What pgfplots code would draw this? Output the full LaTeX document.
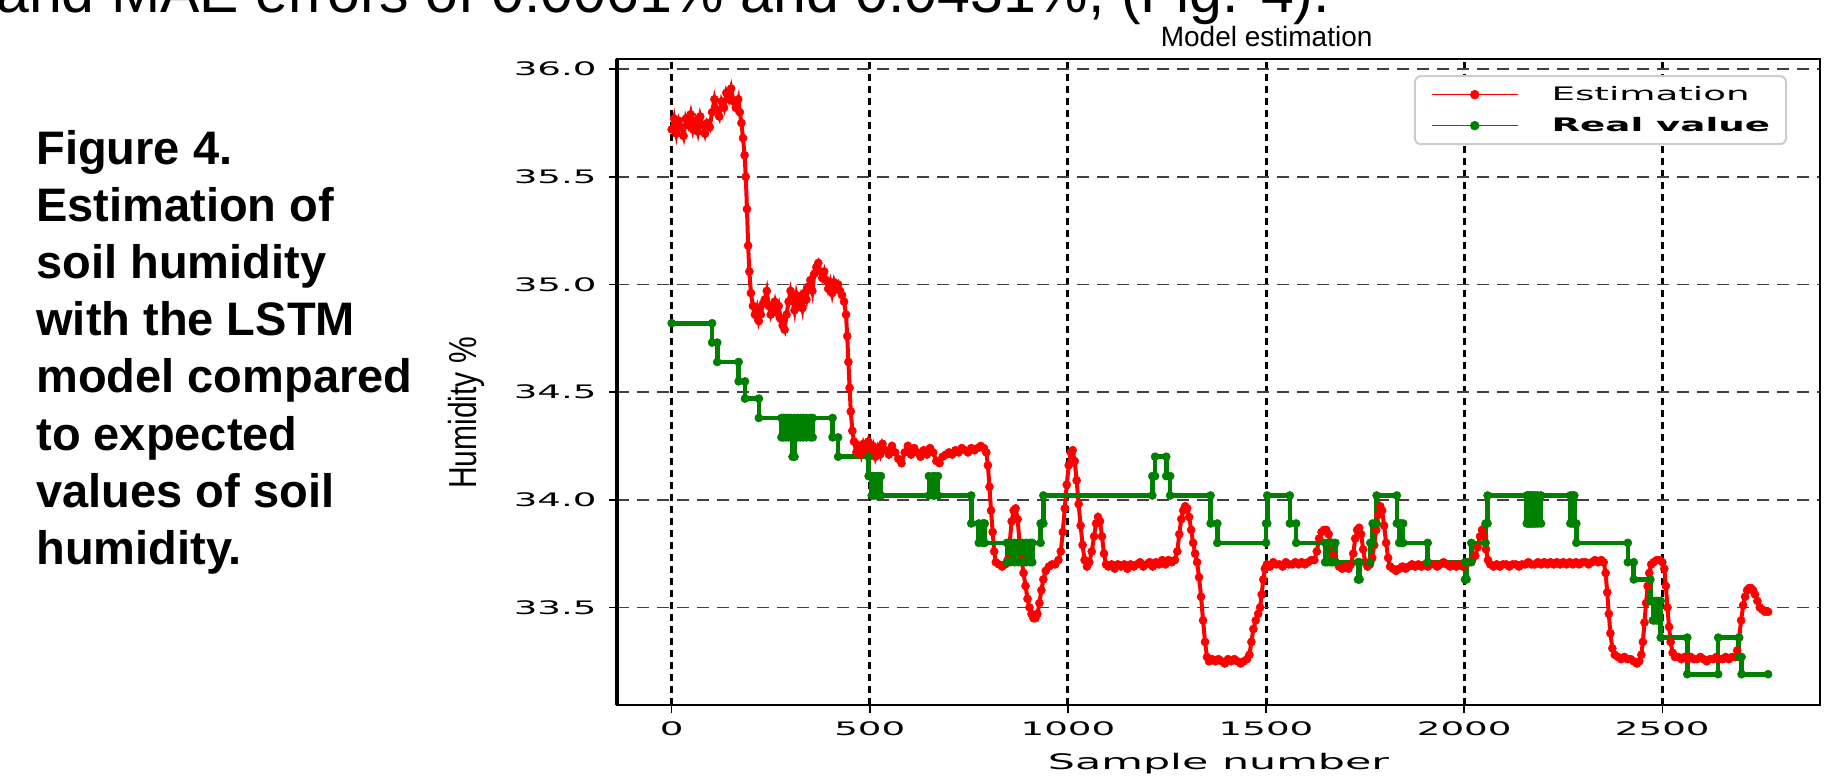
\documentclass[border=0pt]{standalone}
\usepackage{fontspec}
\setmainfont{Liberation Sans}
\newfontfamily\dejavu{DejaVu Sans}
\usepackage{graphicx}
\usepackage{pgfplots}
\pgfplotsset{compat=1.18}
\definecolor{mplgreen}{RGB}{0,128,0}
\newcommand{\wide}[1]{\scalebox{2}[1]{#1}}
\begin{document}
\begin{tikzpicture}[x=1pt,y=1pt]
\useasboundingbox (-308.5,-36) rectangle (614.5,352.5);
\node[anchor=base west, inner sep=0pt, font=\fontsize{29.5}{34}\selectfont] at (-310.5,346) {and MAE errors of 0.0061\% and 0.0431\%, (Fig. 4).};
\foreach \t [count=\i from 0] in {Figure 4., Estimation of, soil humidity, with the LSTM, model compared, to expected, values of soil, humidity.}
  \node[anchor=base west, inner sep=0pt, font=\bfseries\fontsize{23.5}{28}\selectfont] at (-290.5,270-28.5*\i) {\t};
\begin{axis}[
  scale only axis,
  width=601.5pt, height=323pt,
  xmin=-138, xmax=2898, ymin=33.047, ymax=36.047,
  xtick={0,500,1000,1500,2000,2500},
  xticklabels={\wide{0},\wide{500},\wide{1000},\wide{1500},\wide{2000},\wide{2500}},
  ytick={33.5,34,34.5,35,35.5,36},
  yticklabels={\wide{33.5},\wide{34.0},\wide{34.5},\wide{35.0},\wide{35.5},\wide{36.0}},
  tick align=outside, tick pos=left, major tick length=4pt,
  tick style={black, line width=0.8pt},
  tick label style={font=\dejavu\fontsize{9.3}{11}\selectfont, inner sep=0pt},
  xticklabel style={anchor=north, yshift=-4pt},
  yticklabel style={anchor=east, xshift=-6pt},
  xmajorgrids, ymajorgrids,
  x grid style={black, line width=1.5pt, dash pattern=on 3.5pt off 2.5pt},
  y grid style={black!75, line width=0.9pt, dash pattern=on 6pt off 4pt},
  axis line style={black, line width=1pt},
  legend style={at={(0.9726,0.975)}, anchor=north east, draw=black!20, line width=1pt,
    rounded corners=3pt, fill=white, inner xsep=8pt, inner ysep=1.5pt, row sep=0pt,
    font=\dejavu\fontsize{9.3}{11}\selectfont,
    nodes={inner sep=0pt, minimum height=15.5pt},
    /tikz/every odd column/.append style={column sep=16.5pt}},
  legend cell align=left,
  legend image code/.code={\draw[mark repeat=2,mark phase=2,#1,line width=0.8pt,mark size=2.2pt] plot coordinates {(0pt,0pt) (21.5pt,0pt) (43pt,0pt)};},
  after end axis/.code={
    \draw[black, line width=2pt] (rel axis cs:0,0) -- (rel axis cs:0,1);
    \node[font=\fontsize{14}{16}\selectfont, anchor=base] at (rel axis cs:0.54,1.019) {Model estimation};
    \node[font=\dejavu\fontsize{10.7}{12}\selectfont, anchor=base] at (rel axis cs:0.5,-0.1006) {\wide{Sample number}};
    \node[rotate=90, font=\fontsize{15}{18}\selectfont, anchor=center] at (rel axis cs:-0.1255,0.452) {\scalebox{1}[1.3]{Humidity \%}};
  },
]
\addplot[red, line width=2pt, mark=*, mark size=2pt, mark options={line width=0.3pt, fill=red, draw=red}] coordinates {
(0,35.72) (6,35.77) (12,35.70) (18,35.76) (24,35.73) (30,35.69) (36,35.77) (42,35.74) (48,35.79) (54,35.72)
(60,35.76) (66,35.71) (72,35.78) (78,35.74) (84,35.70) (90,35.75) (96,35.73) (102,35.80) (108,35.86) (114,35.81)
(120,35.78) (126,35.85) (132,35.82) (138,35.89) (144,35.86) (150,35.91) (156,35.85) (162,35.82) (168,35.86) (172,35.80)
(176,35.75) (180,35.68) (184,35.60) (187,35.50) (190,35.35) (193,35.18) (196,35.06) (200,34.96) (205,34.90) (210,34.86)
(215,34.89) (220,34.83) (225,34.86) (230,34.91) (235,34.93) (240,34.97) (245,34.90) (250,34.86) (255,34.89) (260,34.92)
(265,34.87) (270,34.90) (275,34.84) (280,34.81) (285,34.79) (290,34.86) (295,34.92) (300,34.97) (305,34.93) (310,34.88)
(315,34.95) (320,34.91) (325,34.94) (330,34.89) (335,34.96) (340,34.93) (345,34.99) (350,35.02) (355,34.97) (360,35.05)
(365,35.08) (370,35.10) (375,35.06) (380,35.03) (385,35.06) (390,35.02) (395,34.98) (400,35.01) (405,34.96) (410,35.01)
(415,34.98) (420,35.00) (425,34.97) (430,34.95) (435,34.92) (440,34.86) (443,34.76) (446,34.64) (449,34.52) (452,34.41)
(456,34.32) (460,34.27) (466,34.22) (472,34.25) (478,34.21) (484,34.26) (490,34.23) (496,34.27) (502,34.22) (508,34.25)
(514,34.20) (520,34.24) (526,34.21) (532,34.26) (540,34.23) (548,34.21) (556,34.25) (564,34.22) (572,34.19) (580,34.17)
(588,34.22) (596,34.25) (604,34.21) (612,34.24) (620,34.22) (628,34.20) (636,34.23) (644,34.21) (652,34.24) (660,34.22)
(668,34.18) (676,34.17) (684,34.20) (692,34.21) (700,34.22) (708,34.21) (716,34.23) (724,34.22) (732,34.24) (740,34.23)
(748,34.22) (756,34.24) (764,34.23) (772,34.24) (780,34.25) (788,34.24) (794,34.22) (798,34.16) (802,34.06) (806,33.95)
(810,33.85) (814,33.76) (818,33.71) (826,33.70) (834,33.69) (842,33.70) (848,33.72) (853,33.80) (858,33.90) (863,33.95)
(868,33.96) (873,33.91) (878,33.80) (883,33.72) (888,33.66) (893,33.60) (898,33.54) (903,33.50) (908,33.47) (913,33.45)
(918,33.45) (923,33.47) (928,33.52) (933,33.58) (938,33.63) (944,33.67) (952,33.69) (960,33.70) (968,33.70) (976,33.72)
(982,33.76) (987,33.85) (992,33.96) (997,34.07) (1002,34.16) (1007,34.22) (1012,34.23) (1017,34.18) (1022,34.09) (1027,33.98)
(1032,33.88) (1037,33.79) (1042,33.72) (1048,33.69) (1054,33.71) (1060,33.76) (1066,33.83) (1071,33.89) (1076,33.92) (1081,33.90)
(1086,33.83) (1091,33.75) (1096,33.70) (1102,33.69) (1110,33.70) (1118,33.68) (1126,33.70) (1134,33.69) (1142,33.70) (1150,33.68)
(1158,33.70) (1166,33.69) (1174,33.70) (1182,33.71) (1190,33.69) (1198,33.70) (1206,33.71) (1214,33.69) (1222,33.71) (1230,33.70)
(1238,33.72) (1246,33.70) (1254,33.72) (1262,33.71) (1270,33.72) (1276,33.76) (1281,33.84) (1286,33.91) (1291,33.95) (1296,33.97)
(1301,33.96) (1306,33.92) (1311,33.86) (1316,33.80) (1321,33.75) (1326,33.71) (1331,33.64) (1336,33.55) (1341,33.44) (1346,33.34)
(1351,33.27) (1356,33.25) (1364,33.26) (1372,33.25) (1380,33.26) (1388,33.25) (1396,33.24) (1404,33.26) (1412,33.25) (1420,33.26)
(1428,33.25) (1436,33.24) (1444,33.25) (1452,33.26) (1458,33.28) (1463,33.34) (1468,33.40) (1474,33.44) (1480,33.47) (1485,33.50)
(1489,33.56) (1493,33.63) (1497,33.68) (1502,33.70) (1510,33.69) (1518,33.71) (1526,33.70) (1534,33.70) (1542,33.69) (1550,33.71)
(1558,33.70) (1566,33.70) (1574,33.71) (1582,33.70) (1590,33.71) (1598,33.70) (1606,33.71) (1614,33.72) (1622,33.72) (1628,33.76)
(1634,33.82) (1640,33.85) (1646,33.86) (1652,33.86) (1658,33.84) (1664,33.79) (1670,33.74) (1676,33.71) (1684,33.69) (1692,33.68)
(1700,33.69) (1708,33.68) (1714,33.70) (1720,33.75) (1725,33.82) (1730,33.86) (1735,33.87) (1740,33.84) (1745,33.77) (1750,33.71)
(1756,33.69) (1762,33.70) (1768,33.73) (1773,33.79) (1778,33.86) (1783,33.93) (1788,33.97) (1793,33.95) (1798,33.88) (1803,33.80)
(1808,33.73) (1813,33.69) (1820,33.68) (1828,33.67) (1836,33.68) (1844,33.69) (1852,33.68) (1860,33.69) (1868,33.70) (1876,33.69)
(1884,33.70) (1892,33.69) (1900,33.70) (1908,33.69) (1916,33.70) (1924,33.70) (1932,33.69) (1940,33.70) (1948,33.71) (1956,33.70)
(1964,33.69) (1972,33.70) (1980,33.69) (1988,33.70) (1996,33.69) (2004,33.70) (2012,33.71) (2020,33.72) (2028,33.74) (2034,33.78)
(2040,33.83) (2045,33.86) (2050,33.83) (2055,33.77) (2060,33.72) (2066,33.70) (2074,33.69) (2082,33.70) (2090,33.69) (2098,33.70)
(2106,33.70) (2114,33.69) (2122,33.70) (2130,33.70) (2138,33.69) (2146,33.70) (2154,33.70) (2162,33.71) (2170,33.70) (2178,33.70)
(2186,33.71) (2194,33.70) (2202,33.71) (2210,33.70) (2218,33.71) (2226,33.70) (2234,33.71) (2242,33.70) (2250,33.71) (2258,33.70)
(2266,33.71) (2274,33.70) (2282,33.71) (2290,33.70) (2298,33.71) (2306,33.71) (2314,33.70) (2322,33.71) (2330,33.72) (2338,33.71)
(2346,33.72) (2352,33.71) (2357,33.66) (2361,33.57) (2365,33.47) (2369,33.38) (2374,33.31) (2380,33.28) (2388,33.27) (2396,33.26)
(2404,33.27) (2412,33.26) (2420,33.26) (2428,33.25) (2436,33.24) (2442,33.25) (2447,33.28) (2451,33.34) (2455,33.43) (2459,33.52)
(2463,33.60) (2467,33.66) (2472,33.70) (2478,33.71) (2486,33.72) (2494,33.72) (2500,33.71) (2505,33.68) (2509,33.60) (2513,33.50)
(2517,33.41) (2521,33.34) (2526,33.29) (2532,33.27) (2540,33.27) (2548,33.26) (2556,33.27) (2564,33.26) (2572,33.27) (2580,33.26)
(2588,33.26) (2596,33.27) (2604,33.26) (2612,33.25) (2620,33.26) (2628,33.26) (2636,33.27) (2644,33.26) (2652,33.26) (2660,33.27)
(2668,33.26) (2676,33.27) (2684,33.27) (2689,33.30) (2694,33.36) (2699,33.44) (2704,33.51) (2709,33.55) (2714,33.58) (2719,33.59)
(2724,33.59) (2729,33.58) (2734,33.56) (2740,33.53) (2746,33.50) (2752,33.49) (2759,33.48) (2767,33.48)
};
\addplot[mplgreen, line width=2.3pt, mark=*, mark size=2pt, mark options={line width=0.3pt, fill=mplgreen, draw=mplgreen}] coordinates {
(0,34.82) (102,34.82) (102,34.73) (115,34.73) (115,34.64) (169,34.64) (169,34.55) (185,34.55) (185,34.47) (220,34.47)
(220,34.38) (277,34.38) (277,34.29) (282,34.29) (282,34.38) (288,34.38) (288,34.29) (295,34.29) (295,34.38) (300,34.38)
(300,34.29) (305,34.29) (305,34.20) (310,34.20) (310,34.38) (318,34.38) (318,34.29) (325,34.29) (325,34.38) (332,34.38)
(332,34.29) (340,34.29) (340,34.38) (350,34.38) (350,34.29) (356,34.29) (356,34.38) (406,34.38) (406,34.29) (420,34.29)
(420,34.20) (497,34.20) (497,34.11) (505,34.11) (505,34.02) (510,34.02) (510,34.11) (517,34.11) (517,34.02) (523,34.02)
(523,34.11) (528,34.11) (528,34.02) (649,34.02) (649,34.11) (660,34.11) (660,34.02) (663,34.02) (663,34.11) (672,34.11)
(672,34.02) (756,34.02) (756,33.89) (775,33.89) (775,33.80) (785,33.80) (785,33.89) (790,33.89) (790,33.80) (846,33.80)
(846,33.71) (855,33.71) (855,33.80) (865,33.80) (865,33.71) (875,33.71) (875,33.80) (885,33.80) (885,33.71) (895,33.71)
(895,33.80) (905,33.80) (905,33.71) (910,33.71) (910,33.80) (931,33.80) (931,33.89) (938,33.89) (938,34.02) (1213,34.02)
(1213,34.11) (1220,34.11) (1220,34.20) (1248,34.20) (1248,34.11) (1258,34.11) (1258,34.02) (1360,34.02) (1360,33.89) (1377,33.89)
(1377,33.80) (1500,33.80) (1500,33.89) (1503,33.89) (1503,34.02) (1560,34.02) (1560,33.89) (1576,33.89) (1576,33.80) (1649,33.80)
(1649,33.71) (1655,33.71) (1655,33.80) (1662,33.80) (1662,33.71) (1668,33.71) (1668,33.80) (1675,33.80) (1675,33.71) (1732,33.71)
(1732,33.63) (1736,33.63) (1736,33.71) (1763,33.71) (1763,33.80) (1769,33.80) (1769,33.89) (1779,33.89) (1779,34.02) (1830,34.02)
(1830,33.89) (1836,33.89) (1836,33.80) (1840,33.80) (1840,33.89) (1846,33.89) (1846,33.80) (1908,33.80) (1908,33.71) (2002,33.71)
(2002,33.63) (2006,33.63) (2006,33.71) (2018,33.71) (2018,33.80) (2054,33.80) (2054,33.89) (2059,33.89) (2059,34.02) (2158,34.02)
(2158,33.89) (2162,33.89) (2162,34.02) (2166,34.02) (2166,33.89) (2170,33.89) (2170,34.02) (2175,34.02) (2175,33.89) (2180,33.89)
(2180,34.02) (2186,34.02) (2186,33.89) (2194,33.89) (2194,34.02) (2268,34.02) (2268,33.89) (2274,33.89) (2274,34.02) (2278,34.02)
(2278,33.89) (2283,33.89) (2283,33.80) (2413,33.80) (2413,33.71) (2428,33.71) (2428,33.63) (2470,33.63) (2470,33.53) (2476,33.53)
(2476,33.44) (2480,33.44) (2480,33.53) (2486,33.53) (2486,33.44) (2490,33.44) (2490,33.53) (2496,33.53) (2496,33.36) (2563,33.36)
(2563,33.19) (2641,33.19) (2641,33.36) (2693,33.36) (2693,33.27) (2700,33.27) (2700,33.19) (2767,33.19)
};
\legend{\wide{Estimation},\wide{\textbf{Real value}}}
\end{axis}
\end{tikzpicture}
\end{document}
